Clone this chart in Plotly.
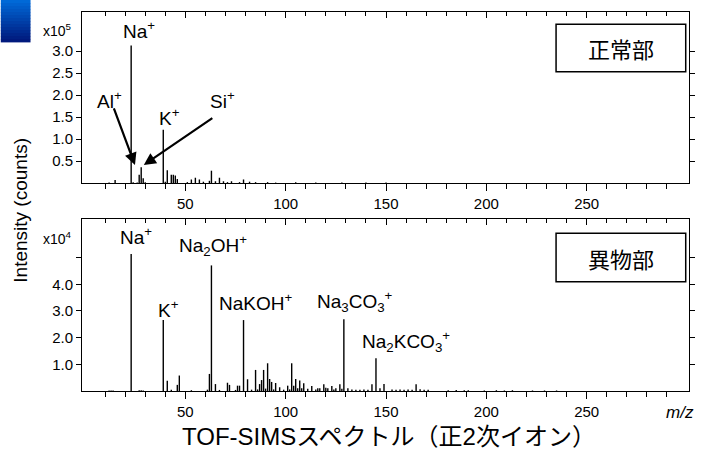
import plotly.graph_objects as go

# ---------------- data ----------------
# 正常部 (normal area), intensity in units of 1e5 counts
top_mz = [12, 15, 23, 24, 26, 27, 28, 29, 30, 39, 40, 41, 43, 44, 45, 46, 51, 53, 55, 57,
          59, 62, 63, 65, 67, 69, 71, 73, 77, 79, 82, 85, 91, 95, 105, 115, 128, 140, 150]
top_int = [0.01, 0.07, 3.13, 0.02, 0.01, 0.19, 0.36, 0.11, 0.02, 1.21, 0.03, 0.29, 0.19, 0.19, 0.17, 0.09,
           0.02, 0.08, 0.12, 0.08, 0.03, 0.05, 0.28, 0.04, 0.12, 0.04, 0.02, 0.04, 0.02, 0.08, 0.03,
           0.02, 0.02, 0.01, 0.015, 0.01, 0.01, 0.01, 0.01]

# 異物部 (foreign matter), intensity in units of 1e4 counts
bot_mz = [12, 13, 14, 23, 27, 28, 29, 39, 41, 43, 46, 47, 53, 61, 62, 63, 65, 67, 71, 72, 75, 76, 77,
          79, 81, 83, 85, 86, 87, 88, 89, 90, 91, 92, 93, 94, 95, 97, 99, 101, 102, 103, 104, 105,
          106, 107, 108, 109, 111, 113, 115, 116, 117, 119, 120, 121, 123, 124, 125, 127, 128,
          129, 131, 133, 135, 137, 139, 141, 143, 145, 147, 149, 153, 155, 157, 159, 161, 163,
          165, 167, 169, 171, 181, 185, 189, 191, 199, 205, 209, 213, 223, 229, 235]
bot_int = [0.02, 0.02, 0.02, 5.14, 0.03, 0.03, 0.02, 2.66, 0.38, 0.05, 0.23, 0.58, 0.03, 0.05, 0.64,
           4.71, 0.26, 0.04, 0.31, 0.23, 0.04, 0.20, 0.20, 2.66, 0.44, 0.05, 0.79, 0.06, 0.26, 0.41,
           0.79, 0.09, 1.04, 0.45, 0.34, 0.06, 0.30, 0.14, 0.05, 0.20, 0.06, 1.04, 0.20, 0.45, 0.10,
           0.39, 0.10, 0.29, 0.08, 0.19, 0.06, 0.10, 0.10, 0.25, 0.12, 0.10, 0.19, 0.06, 0.10, 0.25,
           0.08, 2.69, 0.10, 0.06, 0.05, 0.05, 0.06, 0.05, 0.25, 1.23, 0.10, 0.26, 0.06, 0.05, 0.06,
           0.05, 0.06, 0.05, 0.25, 0.07, 0.05, 0.05, 0.03, 0.04, 0.03, 0.03, 0.02, 0.03, 0.02, 0.03,
           0.02, 0.02, 0.02]

x_ticks = [50, 100, 150, 200, 250]
x_minor = [v for v in range(10, 300, 10) if v % 50 != 0]
top_yticks = [0.5, 1.0, 1.5, 2.0, 2.5, 3.0]
bot_yticks = [1.0, 2.0, 3.0, 4.0, 5.0]
bot_yticktext = ["1.0", "2.0", "3.0", "4.0", ""]

top_labels = [("Na<sup>+</sup>", 27.0, 3.48), ("Al<sup>+</sup>", 12.2, 1.89),
              ("K<sup>+</sup>", 42.1, 1.50), ("Si<sup>+</sup>", 68.7, 1.89)]
top_arrows = [(14.1, 1.73, 24.9, 0.41), (64.2, 1.50, 29.3, 0.41)]
bot_labels = [("Na<sup>+</sup>", 25.4, 5.80), ("K<sup>+</sup>", 41.8, 3.07),
              ("Na<sub>2</sub>OH<sup>+</sup>", 63.9, 5.47), ("NaKOH<sup>+</sup>", 85.2, 3.34),
              ("Na<sub>3</sub>CO<sub>3</sub><sup>+</sup>", 134.4, 3.34),
              ("Na<sub>2</sub>KCO<sub>3</sub><sup>+</sup>", 159.8, 1.85)]


def sticks(mz, inten):
    xs, ys = [], []
    for m, v in zip(mz, inten):
        xs += [m, m, None]
        ys += [0, v, None]
    return xs, ys


LAT = "Liberation Sans, Arial, sans-serif"
CJK = "Liberation Sans, Noto Sans CJK JP, sans-serif"
XR = [-1.5, 301]

fig = go.Figure()
tx, ty = sticks(top_mz, top_int)
fig.add_trace(go.Scatter(x=tx, y=ty, mode="lines", line=dict(color="black", width=1.4),
                         xaxis="x", yaxis="y", hoverinfo="skip", showlegend=False))
bx, by = sticks(bot_mz, bot_int)
fig.add_trace(go.Scatter(x=bx, y=by, mode="lines", line=dict(color="black", width=1.4),
                         xaxis="x2", yaxis="y2", hoverinfo="skip", showlegend=False))
# placeholders for top-side tick axes
fig.add_trace(go.Scatter(x=[None], y=[None], xaxis="x3", yaxis="y", showlegend=False, hoverinfo="skip"))
fig.add_trace(go.Scatter(x=[None], y=[None], xaxis="x4", yaxis="y2", showlegend=False, hoverinfo="skip"))

xcommon = dict(range=XR, tickmode="array", tickvals=x_ticks, ticks="outside", ticklen=7,
               tickwidth=1, tickcolor="black", showline=True, linecolor="black", linewidth=1,
               mirror=True, showgrid=False, zeroline=False,
               tickfont=dict(family=LAT, size=15, color="black"),
               minor=dict(tickmode="array", tickvals=x_minor, ticks="outside", ticklen=5,
                          tickcolor="black", showgrid=False))
xtop = dict(range=XR, tickmode="array", tickvals=x_ticks, ticks="inside", ticklen=6,
            tickwidth=1, tickcolor="black", showticklabels=False, showline=False,
            showgrid=False, zeroline=False, side="top",
            minor=dict(tickmode="array", tickvals=x_minor, ticks="inside", ticklen=4,
                       tickcolor="black", showgrid=False))
ycommon = dict(ticks="outside", ticklen=5, tickwidth=1, tickcolor="black", showline=True,
               linecolor="black", linewidth=1, mirror="ticks", showgrid=False, zeroline=False,
               tickfont=dict(family=LAT, size=15, color="black"), tickmode="array")

fig.update_layout(
    width=701, height=449,
    margin=dict(l=82, r=6, t=12, b=58),
    paper_bgcolor="white", plot_bgcolor="white",
    xaxis=dict(anchor="y", domain=[0, 1], **xcommon),
    xaxis2=dict(anchor="y2", domain=[0, 1], **xcommon),
    xaxis3=dict(overlaying="x", anchor="y", **xtop),
    xaxis4=dict(overlaying="x2", anchor="y2", **xtop),
    yaxis=dict(anchor="x", domain=[0.5488, 1], range=[0, 3.89], tickvals=top_yticks,
               ticktext=["%.1f" % v for v in top_yticks], **ycommon),
    yaxis2=dict(anchor="x2", domain=[0, 0.4538], range=[0, 6.45], tickvals=bot_yticks,
                ticktext=bot_yticktext, **ycommon),
    showlegend=False,
)

annotations = []
for t, x, y in top_labels:
    annotations.append(dict(text=t, x=x, y=y, xref="x", yref="y", showarrow=False,
                            xanchor="center", yanchor="middle",
                            font=dict(family=LAT, size=19, color="black")))
for x0, y0, x1, y1 in top_arrows:
    annotations.append(dict(text="", x=x1, y=y1, ax=x0, ay=y0, xref="x", yref="y",
                            axref="x", ayref="y", showarrow=True, arrowhead=2,
                            arrowsize=1.1, arrowwidth=2.2, arrowcolor="black"))
for t, x, y in bot_labels:
    annotations.append(dict(text=t, x=x, y=y, xref="x2", yref="y2", showarrow=False,
                            xanchor="center", yanchor="middle",
                            font=dict(family=LAT, size=19, color="black")))
annotations += [
    dict(text="x10<sup>5</sup>", x=-0.041, y=0.9525, xref="paper", yref="paper", showarrow=False,
         xanchor="center", yanchor="middle", font=dict(family=LAT, size=14, color="black")),
    dict(text="x10<sup>4</sup>", x=-0.041, y=0.405, xref="paper", yref="paper", showarrow=False,
         xanchor="center", yanchor="middle", font=dict(family=LAT, size=14, color="black")),
    dict(text="Intensity (counts)", x=-0.101, y=0.4776, xref="paper", yref="paper",
         xanchor="center", yanchor="middle",
         showarrow=False, textangle=-90, font=dict(family=LAT, size=19, color="black")),
    dict(text="TOF-SIMSスペクトル（正2次イオン）", x=0.506, y=-0.121, xref="paper", yref="paper",
         xanchor="center", yanchor="middle",
         showarrow=False, font=dict(family=CJK, size=24, color="black")),
    dict(text="<i>m/z</i>", x=0.985, y=-0.058, xref="paper", yref="paper", showarrow=False,
         xanchor="center", yanchor="middle", font=dict(family=LAT, size=17, color="black")),
    dict(text="正常部", x=0.888, y=0.79, xref="x domain", yref="y domain", showarrow=False,
         xanchor="center", yanchor="middle",
         font=dict(family="Noto Sans CJK JP", size=22, color="black")),
    dict(text="異物部", x=0.888, y=0.776, xref="x2 domain", yref="y2 domain", showarrow=False,
         xanchor="center", yanchor="middle",
         font=dict(family="Noto Sans CJK JP", size=22, color="black")),
]
fig.update_layout(annotations=annotations)

shapes = [
    dict(type="rect", xref="x domain", yref="y domain", x0=0.781, x1=0.9946, y0=0.651, y1=0.928,
         line=dict(color="black", width=1.5), fillcolor="white", layer="below"),
    dict(type="rect", xref="x2 domain", yref="y2 domain", x0=0.781, x1=0.9946, y0=0.635, y1=0.917,
         line=dict(color="black", width=1.5), fillcolor="white", layer="below"),
]
# decorative blue gradient block (top-left corner)
n = 14
px0, px1 = -0.1338, -0.0848
py_top, py_bot = 1.0317, 0.9208
for i in range(n):
    f = i / (n - 1)
    g = int(105 + (25 - 105) * f)
    b = int(215 + (125 - 215) * f)
    y1 = py_top - (py_top - py_bot) * i / n
    y0 = py_top - (py_top - py_bot) * (i + 1) / n
    shapes.append(dict(type="rect", xref="paper", yref="paper", x0=px0, x1=px1, y0=y0 - 0.001,
                       y1=y1, line=dict(width=0), fillcolor=f"rgb(0,{g},{b})", layer="below"))
fig.update_layout(shapes=shapes)

fig.write_html("out.html", config={"displayModeBar": False},
               post_script="document.body.style.margin='0';")
